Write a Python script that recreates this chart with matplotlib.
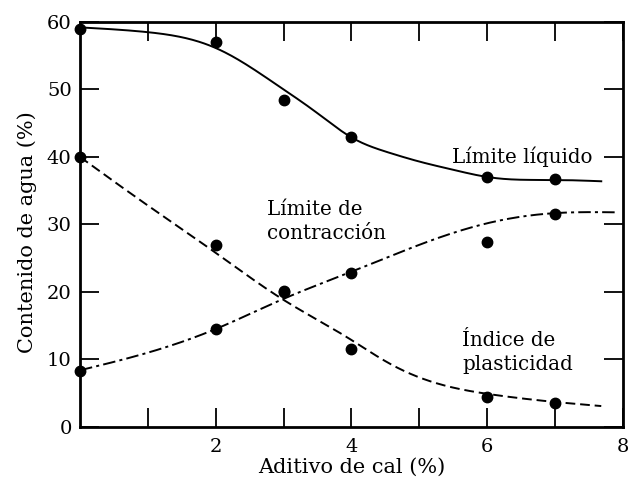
import numpy as np
import matplotlib
matplotlib.use('Agg')
import matplotlib.pyplot as plt

plt.rcParams['font.family'] = 'DejaVu Serif'
plt.rcParams['lines.scale_dashes'] = False

# measured points
cal = [0, 2, 3, 4, 6, 7]
limite_liquido = [59.0, 57.0, 48.5, 43.0, 37.0, 36.7]
limite_contraccion = [8.3, 14.5, 20.0, 22.8, 27.4, 31.6]
indice_plasticidad = [40.0, 27.0, 20.2, 11.6, 4.5, 3.5]

# hand drawn trend curves
curva_ll_x = [0, 1, 2, 3, 3.5, 4, 4.5, 5, 5.5, 6, 7, 7.68]
curva_ll_y = [59.2, 58.5, 56.2, 50.0, 46.5, 42.8, 40.8, 39.3, 38.1, 37.0, 36.6, 36.4]
curva_lc_x = [0, 1, 2, 3, 4, 5, 6, 7, 7.9]
curva_lc_y = [8.4, 11.0, 14.5, 19.0, 23.0, 27.0, 30.2, 31.7, 31.8]
curva_ip_x = [0, 1, 2, 3, 4, 4.5, 5, 5.5, 6, 7, 7.68]
curva_ip_y = [40.0, 32.8, 25.8, 18.8, 12.9, 9.7, 7.3, 5.8, 4.9, 3.7, 3.1]


def spline(xs, ys, n=400, sigma=0.15):
    # natural cubic spline through the guide points, lightly smoothed
    xs = np.asarray(xs, float)
    ys = np.asarray(ys, float)
    k = len(xs)
    h = np.diff(xs)
    A = np.zeros((k, k))
    r = np.zeros(k)
    A[0, 0] = 1
    A[-1, -1] = 1
    for i in range(1, k - 1):
        A[i, i - 1] = h[i - 1]
        A[i, i] = 2 * (h[i - 1] + h[i])
        A[i, i + 1] = h[i]
        r[i] = 6 * ((ys[i + 1] - ys[i]) / h[i] - (ys[i] - ys[i - 1]) / h[i - 1])
    M = np.linalg.solve(A, r)
    xx = np.linspace(xs[0], xs[-1], n)
    idx = np.clip(np.searchsorted(xs, xx) - 1, 0, k - 2)
    x0, x1 = xs[idx], xs[idx + 1]
    hh = x1 - x0
    a = (x1 - xx) / hh
    b = (xx - x0) / hh
    yy = (a * ys[idx] + b * ys[idx + 1]
          + ((a**3 - a) * M[idx] + (b**3 - b) * M[idx + 1]) * hh**2 / 6)
    s = sigma / (xx[1] - xx[0])
    m = int(3 * s)
    ker = np.exp(-0.5 * (np.arange(-m, m + 1) / s)**2)
    ker /= ker.sum()
    padded = np.pad(yy, m, mode='reflect', reflect_type='odd')
    yy = np.convolve(padded, ker, mode='valid')
    return xx, yy


fig = plt.figure(figsize=(6.28, 4.83), dpi=100)
ax = fig.add_axes([0.1274, 0.116, 0.8646, 0.8385])

x, y = spline(curva_ll_x, curva_ll_y)
ax.plot(x, y, color='black', lw=1.4)
x, y = spline(curva_lc_x, curva_lc_y)
ax.plot(x, y, color='black', lw=1.4, dashes=[9, 3, 2.2, 3])
x, y = spline(curva_ip_x, curva_ip_y)
ax.plot(x, y, color='black', lw=1.4, dashes=[7, 3.5])

for serie in (limite_liquido, limite_contraccion, indice_plasticidad):
    ax.plot(cal, serie, 'o', color='black', ms=7.5, clip_on=False, zorder=5)

ax.text(6.51, 40.0, 'Límite líquido', fontsize=14.3, ha='center', va='center')
ax.text(2.75, 33.6, 'Límite de\ncontracción', fontsize=14.3, ha='left', va='top',
        linespacing=1.32)
ax.text(5.63, 14.2, 'Índice de\nplasticidad', fontsize=14.3, ha='left', va='top',
        linespacing=1.32)

ax.set_xlim(0, 8)
ax.set_ylim(0, 60)
ax.set_xticks(range(1, 8), minor=True)
ax.set_xticks([2, 4, 6, 8])
ax.set_xticklabels(['2', '4', '6', '8'])
ax.set_yticks(range(0, 61, 10))
ax.tick_params(which='both', direction='in', length=14, width=1.3,
               top=True, right=True, labelsize=14)
ax.tick_params(axis='x', pad=8)
ax.tick_params(axis='y', pad=6)
for s in ax.spines.values():
    s.set_linewidth(2)

ax.set_xlabel('Aditivo de cal (%)', fontsize=15, labelpad=1)
ax.set_ylabel('Contenido de agua (%)', fontsize=15, labelpad=4)
ax.yaxis.set_label_coords(-0.08, 0.48)

fig.savefig('out.png', dpi=100)
